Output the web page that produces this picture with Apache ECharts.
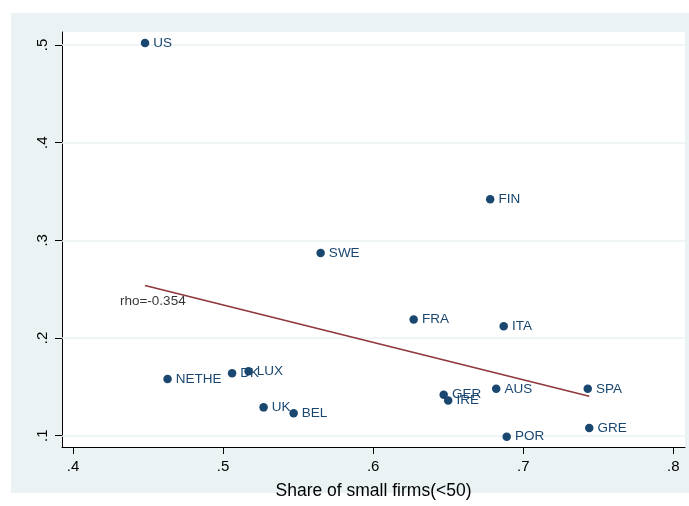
<!DOCTYPE html>
<html>
<head>
<meta charset="utf-8">
<script src="https://cdn.jsdelivr.net/npm/echarts@6/dist/echarts.min.js"></script>
<style>
  html, body { margin: 0; padding: 0; background: #ffffff; }
  #wrap { position: relative; width: 689px; height: 506px; }
  #panel { position: absolute; left: 11px; top: 13px; width: 678px; height: 480px; background: #eaf2f3; }
  #chart { position: absolute; left: 0; top: 0; width: 689px; height: 506px; }
</style>
</head>
<body>
<div id="wrap">
  <div id="panel"></div>
  <div id="chart"></div>
</div>
<script>
// Countries, share of small firms (<50 employees) and the outcome on the vertical axis
const countries = ['US', 'FIN', 'SWE', 'FRA', 'ITA', 'NETHE', 'DK', 'LUX', 'UK', 'BEL', 'GER', 'IRE', 'AUS', 'SPA', 'GRE', 'POR'];
const smallFirmShare = [0.448, 0.678, 0.565, 0.627, 0.687, 0.463, 0.506, 0.517, 0.527, 0.547, 0.647, 0.650, 0.682, 0.743, 0.744, 0.689];
const outcome = [0.502, 0.342, 0.287, 0.219, 0.212, 0.158, 0.164, 0.166, 0.129, 0.123, 0.142, 0.136, 0.148, 0.148, 0.108, 0.099];

// Tick labels
const xTicks = [0.4, 0.5, 0.6, 0.7, 0.8];
const yTicks = [0.1, 0.2, 0.3, 0.4, 0.5];

// Correlation annotation
const rhoText = 'rho=-0.354';
const rhoAnchor = [0.4313, 0.238];

const NAVY = '#1a476f';
const MAROON = '#90353b';
const GRIDC = '#eaf2f3';
const FONT = '"Liberation Sans", Arial, Helvetica, sans-serif';

// Ordinary least squares fit drawn over the observed x range
const n = smallFirmShare.length;
const mx = smallFirmShare.reduce((a, b) => a + b, 0) / n;
const my = outcome.reduce((a, b) => a + b, 0) / n;
let sxy = 0, sxx = 0;
for (let i = 0; i < n; i++) {
  sxy += (smallFirmShare[i] - mx) * (outcome[i] - my);
  sxx += (smallFirmShare[i] - mx) ** 2;
}
const slope = sxy / sxx;
const icept = my - slope * mx;
const xLo = Math.min(...smallFirmShare), xHi = Math.max(...smallFirmShare);
const fitLine = [[xLo, icept + slope * xLo], [xHi, icept + slope * xHi]];

const points = countries.map((c, i) => ({ name: c, value: [smallFirmShare[i], outcome[i]] }));
const fmt = v => Number(v).toFixed(1).replace(/^0/, '');

const chart = echarts.init(document.getElementById('chart'), null, { renderer: 'canvas' });
chart.setOption({
  backgroundColor: 'transparent',
  animation: false,
  grid: {
    left: 62, top: 32, right: 4, bottom: 59,
    show: true, backgroundColor: '#ffffff', borderWidth: 0
  },
  xAxis: {
    type: 'value',
    min: 0.39267, max: 0.8078,
    name: 'Share of small firms(<50)',
    nameLocation: 'middle',
    nameGap: 35,
    nameTextStyle: { fontFamily: FONT, fontSize: 17.5, color: '#000' },
    axisLine: { show: true, onZero: false, lineStyle: { color: '#000', width: 1 } },
    axisTick: { show: true, length: 7, customValues: xTicks, lineStyle: { color: '#000' } },
    axisLabel: { customValues: xTicks, formatter: fmt, fontFamily: FONT, fontSize: 15, color: '#000', margin: 12 },
    splitLine: { show: false }
  },
  yAxis: {
    type: 'value',
    min: 0.08843, max: 0.5133,
    axisLine: { show: true, onZero: false, lineStyle: { color: '#000', width: 1 } },
    axisTick: { show: true, length: 7, customValues: yTicks, lineStyle: { color: '#000' } },
    axisLabel: { customValues: yTicks, formatter: fmt, rotate: 90, fontFamily: FONT, fontSize: 15, color: '#000', margin: 12 },
    splitLine: { show: false }
  },
  series: [
    {
      // horizontal reference lines at the y ticks
      type: 'line',
      data: [],
      silent: true,
      z: 1,
      markLine: {
        z: 1,
        silent: true,
        symbol: ['none', 'none'],
        label: { show: false },
        lineStyle: { color: GRIDC, width: 1.5, type: 'solid' },
        data: yTicks.map(v => ({ yAxis: v }))
      }
    },
    {
      type: 'line',
      data: fitLine,
      showSymbol: false,
      symbol: 'none',
      silent: true,
      z: 2,
      lineStyle: { color: MAROON, width: 1.5 }
    },
    {
      type: 'scatter',
      data: points,
      symbol: 'circle',
      symbolSize: 8.5,
      z: 3,
      itemStyle: { color: NAVY, opacity: 1 },
      label: {
        show: true,
        position: 'right',
        distance: 4,
        formatter: p => p.name,
        fontFamily: FONT,
        fontSize: 13.5,
        color: NAVY
      }
    },
    {
      type: 'scatter',
      data: [{ name: rhoText, value: rhoAnchor }],
      symbolSize: 0,
      silent: true,
      z: 4,
      label: {
        show: true,
        position: 'right',
        distance: 0,
        formatter: p => p.name,
        fontFamily: FONT,
        fontSize: 13.5,
        color: '#000'
      }
    }
  ]
});
</script>
</body>
</html>
